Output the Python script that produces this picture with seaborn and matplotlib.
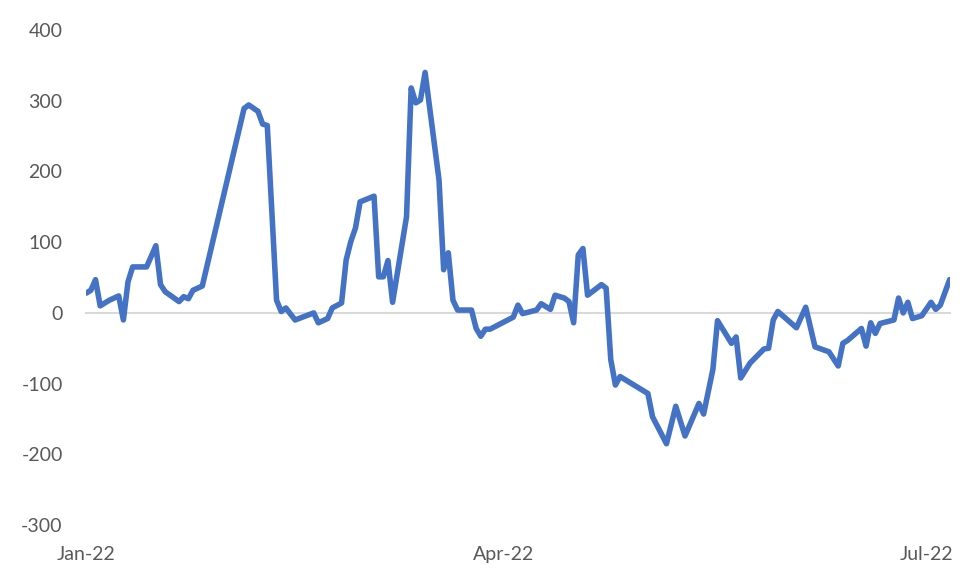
import pandas as pd
import matplotlib
matplotlib.use('Agg')
import matplotlib.pyplot as plt
import matplotlib.dates as mdates
import seaborn as sns

# Data: days since 1 Jan 2022 and the series value
start_date = '2022-01-01'
day_offsets = [0, 1, 2, 3, 5, 7, 8, 9, 10, 13, 15, 16, 17, 20, 21, 22, 23, 25,
               34, 35, 37, 38, 39, 41, 42, 43, 45, 49, 50, 52, 53, 55, 56, 57,
               58, 59, 62, 63, 64, 65, 66, 69, 70, 71, 72, 73, 76, 77, 78, 79,
               80, 83, 84, 85, 86, 87, 92, 93, 94, 97, 98, 100, 101, 103, 104,
               105, 106, 107, 108, 111, 112, 113, 114, 115, 121, 122, 125, 127,
               129, 132, 133, 135, 136, 139, 140, 141, 143, 146, 147, 148, 149,
               153, 155, 157, 160, 162, 163, 164, 167, 168, 169, 170, 171, 174,
               175, 176, 177, 178, 180, 182, 183, 184, 186]
values = [28, 32, 47, 10, 18, 24, -10, 44, 65, 65, 95, 40, 30, 16, 23, 20, 32, 38,
          289, 294, 285, 267, 265, 18, 2, 7, -10, 0, -14, -8, 7, 14, 75, 101,
          120, 157, 165, 51, 51, 74, 15, 136, 318, 297, 301, 340, 188, 61, 85, 18,
          4, 4, -22, -33, -23, -23, -6, 11, -1, 4, 13, 5, 25, 21, 16,
          -14, 82, 91, 25, 40, 35, -66, -102, -90, -114, -147, -185, -132,
          -174, -128, -143, -80, -11, -43, -34, -92, -71, -51, -50, -10, 2,
          -21, 8, -48, -55, -75, -43, -39, -22, -47, -14, -29, -15, -10,
          21, 0, 15, -8, -4, 15, 5, 11, 47]
y_ticks = [-300, -200, -100, 0, 100, 200, 300, 400]

df = pd.DataFrame({
    'date': pd.Timestamp(start_date) + pd.to_timedelta(day_offsets, unit='D'),
    'value': values,
})

sns.set_style('white')
plt.rcParams['font.family'] = ['Lato', 'DejaVu Sans']
plt.rcParams['axes.unicode_minus'] = False

fig = plt.figure(figsize=(9.8, 5.88), dpi=100)
ax = fig.add_axes([0.088, 0.107, 0.881, 0.842])

sns.lineplot(data=df, x='date', y='value', ax=ax, color='#4472C4',
             linewidth=4.0, solid_joinstyle='round', solid_capstyle='round')

ax.set_xlim(df['date'].min(), df['date'].max())
ax.set_ylim(-300, 400)
ax.set_yticks(y_ticks)
ax.set_xlabel('')
ax.set_ylabel('')

for side in ['top', 'right', 'left']:
    ax.spines[side].set_visible(False)
ax.spines['bottom'].set_position(('data', 0))
ax.spines['bottom'].set_color('#D9D9D9')
ax.spines['bottom'].set_linewidth(1.5)
ax.spines['bottom'].set_zorder(0)

ax.xaxis.set_major_locator(mdates.MonthLocator(bymonth=[1, 4, 7]))
ax.xaxis.set_major_formatter(mdates.DateFormatter('%b-%y'))
ax.tick_params(axis='x', length=5, width=1.2, color='#D9D9D9', direction='out',
               pad=163, labelsize=14, labelcolor='#595959')
ax.tick_params(axis='y', length=0, pad=17, labelsize=14, labelcolor='#595959')
ax.grid(False)

plt.savefig('out.png', dpi=100)
plt.close()
